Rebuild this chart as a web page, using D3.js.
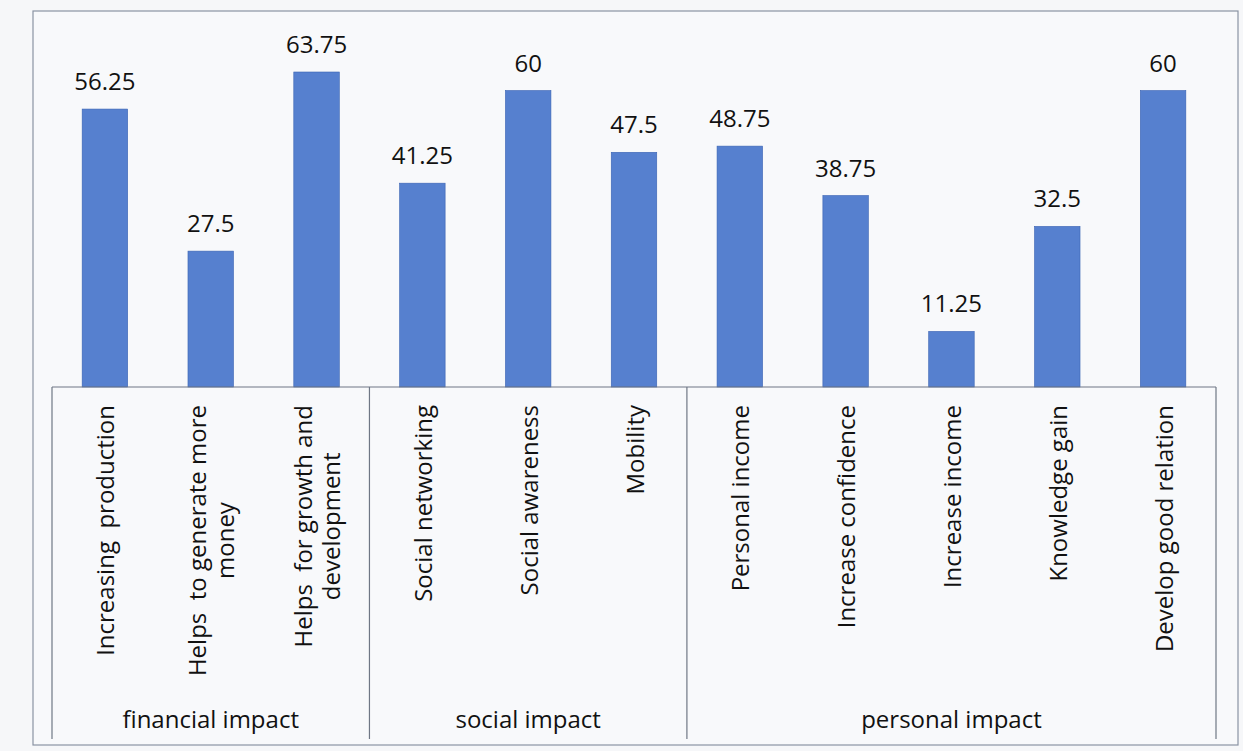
<!DOCTYPE html>
<html><head><meta charset="utf-8">
<script src="https://cdn.jsdelivr.net/npm/d3@7"></script>
<style>
html,body{margin:0;padding:0;background:#f6f7f9;}
svg{display:block;}
text{font-family:"Open Sans","Noto Sans",sans-serif;fill:#111;}
</style></head>
<body>
<svg id="chart" width="1243" height="751"></svg>
<script>
const categories = [
  "Increasing  production",
  "Helps  to generate more|money",
  "Helps  for growth and|development",
  "Social networking",
  "Social awareness",
  "Mobility",
  "Personal income",
  "Increase confidence",
  "Increase income",
  "Knowledge gain",
  "Develop good relation"
];
const values = [56.25, 27.5, 63.75, 41.25, 60, 47.5, 48.75, 38.75, 11.25, 32.5, 60];
const groups = ["financial impact", "social impact", "personal impact"];
const groupSizes = [3, 3, 5];

const svg = d3.select("#chart");
const left = 52, right = 1216, base = 387, boxBottom = 739;
const fs = 24;

// outer border
svg.append("rect").attr("x", 33).attr("y", 11).attr("width", 1205).attr("height", 734)
  .attr("fill", "#f8f9fb").attr("stroke", "#8a93a3").attr("stroke-width", 1.2);

const x = d3.scaleBand().domain(d3.range(categories.length)).range([left, right]).paddingInner(0.57).paddingOuter(0.285);
const xStep = d3.scaleBand().domain(d3.range(categories.length)).range([left, right]);
const y = d3.scaleLinear().domain([0, 63.75]).range([base, 72]);

// bars
svg.append("g").selectAll("rect").data(values).join("rect")
  .attr("x", (d, i) => x(i))
  .attr("y", d => y(d))
  .attr("width", x.bandwidth())
  .attr("height", d => base - y(d))
  .attr("fill", "#5680cf")
  .attr("stroke", "#3a63b3").attr("stroke-width", 0.6);

// value labels
svg.append("g").selectAll("text").data(values).join("text")
  .attr("x", (d, i) => x(i) + x.bandwidth() / 2)
  .attr("y", d => y(d) - 19)
  .attr("text-anchor", "middle")
  .attr("font-size", fs)
  .text(d => d3.format("")(d));

// axis box lines
const lineColor = "#6f7785";
const axisG = svg.append("g").attr("stroke", lineColor).attr("stroke-width", 1.2).attr("fill", "none");
axisG.append("line").attr("x1", left).attr("x2", right).attr("y1", base).attr("y2", base);
let cum = 0;
const seps = [0];
groupSizes.forEach(s => { cum += s; seps.push(cum); });
seps.forEach(k => {
  const xx = k === categories.length ? right : xStep(k);
  axisG.append("line").attr("x1", xx).attr("x2", xx).attr("y1", base).attr("y2", boxBottom);
});

// category labels (rotated)
const labelTop = 405;
const lineGap = 28;
categories.forEach((c, i) => {
  const lines = c.split("|");
  const cx = xStep(i) + xStep.bandwidth() / 2;
  const g = svg.append("g");
  const texts = lines.map((ln, j) => g.append("text")
    .attr("font-size", fs)
    .attr("text-anchor", "middle")
    .attr("dominant-baseline", "central")
    .attr("xml:space", "preserve")
    .style("white-space", "pre")
    .text(ln));
  const lens = texts.map(t => t.node().getComputedTextLength());
  const maxLen = d3.max(lens);
  const n = lines.length;
  texts.forEach((t, j) => {
    const lx = cx + (j - (n - 1) / 2) * lineGap;
    const ly = labelTop + maxLen / 2;
    t.attr("transform", `translate(${lx},${ly}) rotate(-90)`);
  });
});

// group labels
cum = 0;
groups.forEach((gname, gi) => {
  const x0 = xStep(cum);
  cum += groupSizes[gi];
  const x1 = cum === categories.length ? right : xStep(cum);
  svg.append("text")
    .attr("x", (x0 + x1) / 2)
    .attr("y", 728)
    .attr("text-anchor", "middle")
    .attr("font-size", fs)
    .text(gname);
});
</script>
</body></html>
